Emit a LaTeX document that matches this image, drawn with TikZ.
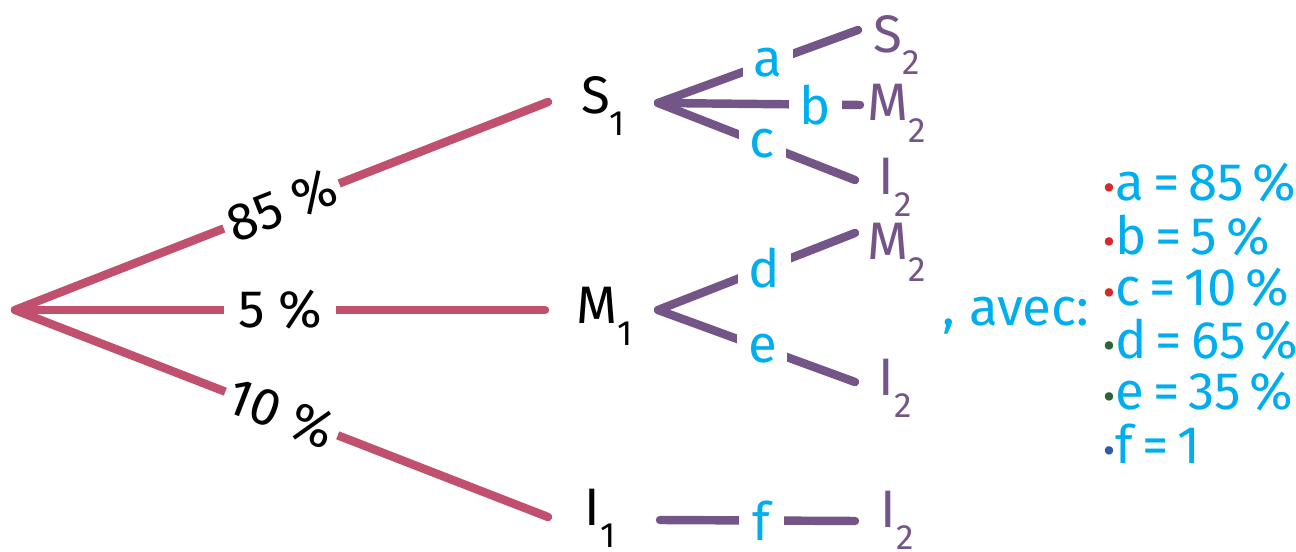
\documentclass[tikz,border=0pt]{standalone}
\usepackage{fontspec}
\setmainfont{Fira Sans}
\definecolor{rline}{RGB}{192,80,110}
\definecolor{pline}{RGB}{115,85,135}
\definecolor{cyantxt}{RGB}{0,174,239}
\definecolor{dotred}{RGB}{215,40,45}
\definecolor{dotgreen}{RGB}{45,100,55}
\definecolor{dotblue}{RGB}{50,90,170}
\newcommand{\lsub}[1]{\raisebox{-0.8ex}{\fontsize{10}{12}\selectfont #1}}
\newcommand{\bul}[1]{\textcolor{#1}{\scalebox{0.7}{\textbullet}}}
\begin{document}
\begin{tikzpicture}[x=0.01cm,y=-0.01cm,
  rb/.style={line width=2.4pt, draw=rline, line cap=round},
  pb/.style={line width=2.4pt, draw=pline, line cap=round},
  blk/.style={font=\fontsize{15}{18}\selectfont, text=black, inner sep=0pt},
  plab/.style={font=\fontsize{15}{18}\selectfont, text=pline, inner sep=0pt},
  gapb/.style={fill=white, font=\fontsize{15}{18}\selectfont, text=black, inner xsep=1.5pt, inner ysep=0pt},
  gapc/.style={fill=white, font=\fontsize{15}{18}\selectfont, text=cyantxt, inner xsep=3pt, inner ysep=0pt},
  lst/.style={font=\fontsize{15}{18}\selectfont, text=cyantxt, anchor=west, inner sep=0pt}]
\useasboundingbox (0,0) rectangle (1296,552);
% first level
\coordinate (r) at (15,310);
\coordinate (s1e) at (548,102);
\coordinate (m1e) at (545,310);
\coordinate (i1e) at (548,517);
\draw[rb] (r) -- node[pos=0.5, sloped, gapb] {85 \%} (s1e);
\draw[rb] (r) -- node[pos=0.5, gapb, inner xsep=4pt] {5 \%} (m1e);
\draw[rb] (r) -- node[pos=0.5, sloped, gapb] {10 \%} (i1e);
\node[blk] (S1) at (603,106) {S\lsub{1}};
\node[blk] (M1) at (605,316) {M\lsub{1}};
\node[blk] (I1) at (600,518) {I\lsub{1}};
% second level
\coordinate (fs) at (658,103);
\coordinate (s2e) at (858,30);
\coordinate (m2e) at (860,105);
\coordinate (i2e) at (855,180);
\coordinate (fm) at (658,310);
\coordinate (m2f) at (855,233);
\coordinate (i2f) at (855,382);
\coordinate (fi) at (660,520);
\coordinate (i2g) at (855,521);
\draw[pb] (fs) -- node[pos=0.55, gapc] {a} (s2e);
\draw[pb] (fs) -- node[pos=0.78, gapc] {b} (m2e);
\draw[pb] (fs) -- node[pos=0.53, gapc] {c} (i2e);
\draw[pb] (fm) -- node[pos=0.54, gapc] {d} (m2f);
\draw[pb] (fm) -- node[pos=0.53, gapc] {e} (i2f);
\draw[pb] (fi) -- node[pos=0.52, gapc, inner xsep=4pt] {f} (i2g);
\node[plab] (S2) at (897,45) {S\lsub{2}};
\node[plab] (M2a) at (897,113) {M\lsub{2}};
\node[plab] (I2a) at (895,187) {I\lsub{2}};
\node[plab] (M2b) at (897,252) {M\lsub{2}};
\node[plab] (I2b) at (895,388) {I\lsub{2}};
\node[plab] (I2c) at (897,520) {I\lsub{2}};
% list
\node[font=\fontsize{15}{18}\selectfont, text=cyantxt, inner sep=0pt] (avec) at (1016,316) {, avec:};
\node[lst] (la) at (1103,183) {\bul{dotred}a\,=\,85\,\%};
\node[lst] (lb) at (1103,236) {\bul{dotred}b\,=\,5\,\%};
\node[lst] (lc) at (1103,288) {\bul{dotred}c\,=\,10\,\%};
\node[lst] (ld) at (1103,340) {\bul{dotgreen}d\,=\,65\,\%};
\node[lst] (le) at (1103,392) {\bul{dotgreen}e\,=\,35\,\%};
\node[lst] (lf) at (1103,444) {\bul{dotblue}f\,=\,1};
\end{tikzpicture}
\end{document}
